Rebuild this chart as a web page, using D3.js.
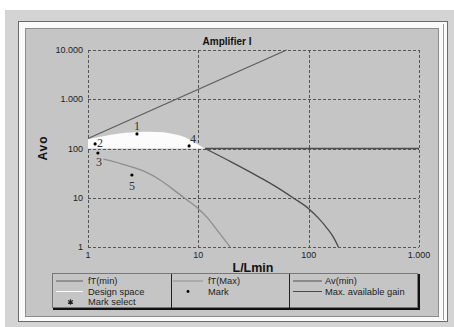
<!DOCTYPE html>
<html>
<head>
<meta charset="utf-8">
<script src="https://cdn.jsdelivr.net/npm/d3@7"></script>
<style>
  body { margin: 0; background: #fff; }
  svg { display: block; font-family: "Liberation Sans", Arial, sans-serif; }
</style>
</head>
<body>
<svg id="chart" width="454" height="327"></svg>
<script>
// tick values and labels
const xTicks = [1, 10, 100, 1000];
const xTickLabels = ["1", "10", "100", "1.000"];
const yTicks = [1, 10, 100, 1000, 10000];
const yTickLabels = ["1", "10", "100", "1.000", "10.000"];

// fT(min) - straight line
const ftMinL = [1, 63];
const ftMinAvo = [160, 10000];

// fT(Max)
const ftMaxL = [1.38, 2, 3.17, 4.5, 5.74, 7.3, 10, 12, 14.8, 19.4];
const ftMaxAvo = [60.6, 49, 35, 23, 15.5, 10.3, 6.0, 4.0, 2.2, 1];

// Av(min)
const avMinL = [11.5, 1000];
const avMinAvo = [100, 100];

// Max. available gain
const gainL = [1, 1.58, 2.2, 3.15, 4.2, 5.5, 6.7, 7.9, 9.5, 11.5, 20, 36, 50, 72, 100, 122, 147, 167, 186];
const gainAvo = [155, 189, 208, 220, 216, 205, 185, 162, 128, 100, 53, 26, 17, 10, 6.0, 3.9, 2.4, 1.6, 1];

// marks
const markL = [2.78, 1.16, 1.23, 8.25, 2.5];
const markAvo = [198, 124, 81, 113, 29];
const markNames = ["1", "2", "3", "4", "5"];

const svg = d3.select("#chart");

// background and panel frame
svg.append("rect").attr("x", 5).attr("y", 10).attr("width", 449).attr("height", 317).attr("fill", "#d4d4d4");
svg.append("rect").attr("x", 18.5).attr("y", 21.5).attr("width", 429).attr("height", 300)
    .attr("fill", "#fafafa").attr("stroke", "#6a6a6a");
svg.append("rect").attr("x", 25.5).attr("y", 28.5).attr("width", 413).attr("height", 288)
    .attr("fill", "#c5c5c5").attr("stroke", "#8c8c8c");
svg.append("line").attr("x1", 443.5).attr("x2", 443.5).attr("y1", 24).attr("y2", 320).attr("stroke", "#9a9a9a");

var x = d3.scaleLog().domain([1, 1000]).range([88, 419]);
var y = d3.scaleLog().domain([1, 10000]).range([247, 50]);

// grid
var grid = svg.append("g").attr("stroke", "#555").attr("stroke-dasharray", "3,2").attr("stroke-width", 1);
xTicks.forEach(function (t) {
    grid.append("line").attr("x1", Math.round(x(t)) + 0.5).attr("x2", Math.round(x(t)) + 0.5)
        .attr("y1", y(10000)).attr("y2", y(1));
});
yTicks.forEach(function (t) {
    grid.append("line").attr("y1", Math.round(y(t)) + 0.5).attr("y2", Math.round(y(t)) + 0.5)
        .attr("x1", x(1)).attr("x2", x(1000));
});

// tick labels
svg.append("g").selectAll("text").data(xTicks).join("text")
    .attr("x", d => x(d)).attr("y", 258).attr("text-anchor", "middle")
    .attr("font-size", 9).attr("fill", "#222")
    .text((d, i) => xTickLabels[i]);
svg.append("g").selectAll("text").data(yTicks).join("text")
    .attr("x", 83).attr("y", d => y(d) + 3).attr("text-anchor", "end")
    .attr("font-size", 9).attr("fill", "#222")
    .text((d, i) => yTickLabels[i]);

// titles
svg.append("text").attr("x", 227).attr("y", 45).attr("text-anchor", "middle")
    .attr("font-size", 10).attr("font-weight", "bold").attr("fill", "#111").text("Amplifier I");
svg.append("text").attr("x", 253).attr("y", 272).attr("text-anchor", "middle")
    .attr("font-size", 12.5).attr("font-weight", "bold").attr("fill", "#111").text("L/Lmin");
svg.append("text").attr("transform", "translate(47,148) rotate(-90)").attr("text-anchor", "middle")
    .attr("font-size", 12).attr("font-weight", "bold").attr("letter-spacing", 1).attr("fill", "#111").text("Avo");

var line = d3.line().x(d => x(d[0])).y(d => y(d[1])).curve(d3.curveMonotoneX);

// design space
var design = d3.zip(gainL, gainAvo).filter(d => d[0] <= 11.5);
svg.append("path").datum(design)
    .attr("d", d3.area().x(d => x(d[0])).y0(y(100)).y1(d => y(d[1])).curve(d3.curveMonotoneX))
    .attr("fill", "#fcfcfc");

svg.append("path").datum(d3.zip(ftMaxL, ftMaxAvo)).attr("d", line)
    .attr("fill", "none").attr("stroke", "#8e8e8e").attr("stroke-width", 1.3);
svg.append("path").datum(d3.zip(gainL, gainAvo).filter(d => d[0] >= 11.5)).attr("d", line)
    .attr("fill", "none").attr("stroke", "#4a4a4a").attr("stroke-width", 1.3);
svg.append("path").datum(d3.zip(avMinL, avMinAvo)).attr("d", line)
    .attr("fill", "none").attr("stroke", "#4e4e4e").attr("stroke-width", 1.5);
svg.append("path").datum(d3.zip(ftMinL, ftMinAvo)).attr("d", line)
    .attr("fill", "none").attr("stroke", "#5c5c5c").attr("stroke-width", 1.2);

// marks
var marks = d3.zip(markL, markAvo, markNames);
svg.append("g").selectAll("circle").data(marks).join("circle")
    .attr("cx", d => x(d[0])).attr("cy", d => y(d[1])).attr("r", 1.6).attr("fill", "#000");
var labelOffsets = [[0, -8], [5, -1], [1, 9], [4, -7], [0, 11]];
svg.append("g").selectAll("text").data(marks).join("text")
    .attr("x", (d, i) => x(d[0]) + labelOffsets[i][0])
    .attr("y", (d, i) => y(d[1]) + labelOffsets[i][1] + 4)
    .attr("text-anchor", "middle").attr("font-family", "Liberation Serif, serif")
    .attr("font-size", 12).attr("fill", "#333")
    .text(d => d[2]);

// legend
var lg = svg.append("g");
lg.append("rect").attr("x", 52.5).attr("y", 273.5).attr("width", 365).attr("height", 34)
    .attr("fill", "#c5c5c5").attr("stroke", "#777");
lg.append("polyline").attr("points", "419,274 419,309 53,309").attr("fill", "none")
    .attr("stroke", "#111").attr("stroke-width", 2);
[171.5, 289.5].forEach(function (xx) {
    lg.append("line").attr("x1", xx).attr("x2", xx).attr("y1", 274).attr("y2", 308).attr("stroke", "#222");
});
var legendItems = [
    { col: 0, row: 0, label: "fT(min)", kind: "line", color: "#5c5c5c" },
    { col: 0, row: 1, label: "Design space", kind: "line", color: "#fcfcfc" },
    { col: 0, row: 2, label: "Mark select", kind: "star", color: "#222" },
    { col: 1, row: 0, label: "fT(Max)", kind: "line", color: "#8e8e8e" },
    { col: 1, row: 1, label: "Mark", kind: "dot", color: "#000" },
    { col: 2, row: 0, label: "Av(min)", kind: "line", color: "#4e4e4e" },
    { col: 2, row: 1, label: "Max. available gain", kind: "line", color: "#4a4a4a" }
];
var colX = [[56, 83, 88], [173, 203, 208], [293, 322, 325]];
legendItems.forEach(function (it) {
    var cy = 281 + it.row * 10.5;
    var c = colX[it.col];
    if (it.kind === "line") {
        lg.append("line").attr("x1", c[0]).attr("x2", c[1]).attr("y1", cy).attr("y2", cy)
            .attr("stroke", it.color).attr("stroke-width", 1);
    } else if (it.kind === "dot") {
        lg.append("circle").attr("cx", (c[0] + c[1]) / 2).attr("cy", cy).attr("r", 1.4).attr("fill", it.color);
    } else {
        lg.append("path").attr("d", d3.symbol(d3.symbolAsterisk, 22)())
            .attr("transform", "translate(" + ((c[0] + c[1]) / 2 + 1) + "," + cy + ")")
            .attr("stroke", it.color).attr("stroke-width", 1.2);
    }
    lg.append("text").attr("x", c[2]).attr("y", cy + 3).attr("font-size", 9.3).attr("fill", "#222").text(it.label);
});
</script>
</body>
</html>
